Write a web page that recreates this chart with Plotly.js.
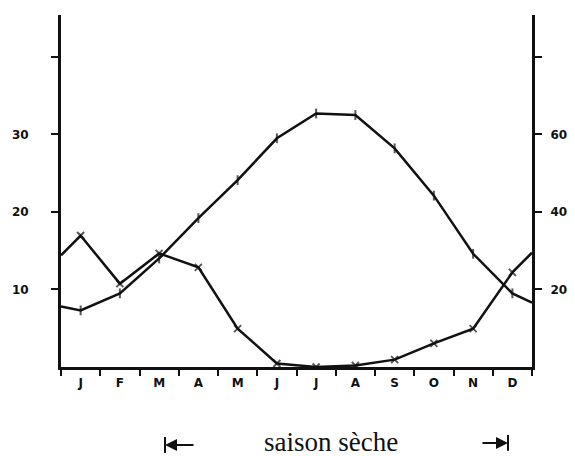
<!DOCTYPE html>
<html>
<head>
<meta charset="utf-8">
<script src="https://cdn.plot.ly/plotly-3.0.1.min.js"></script>
<style>html,body{margin:0;padding:0;background:#fff;}#chart{width:575px;height:456px;}</style>
</head>
<body>
<div id="chart"></div>
<script>
// Month labels (hand-drawn initials)
const months = ['J','F','M','A','M','J','J','A','S','O','N','D'];
// Temperature (°C, left axis)
const temperature = [7.3, 9.5, 14.0, 19.2, 24.1, 29.5, 32.7, 32.5, 28.2, 22.1, 14.6, 9.5];
// Precipitation (mm, right axis)
const precipitation = [33.9, 21.5, 29.3, 25.7, 9.9, 0.9, 0, 0.4, 1.9, 6.1, 9.9, 24.4];
// Values where the curves meet the left / right axes
const temperatureEdges = [7.8, 8.3];
const precipitationEdges = [28.8, 29.5];
// Axis tick labels
const leftTicks = [10, 20, 30, 40];
const leftTickText = ['10', '20', '30', ''];
const rightTicks = [20, 40, 60, 80];
const rightTickText = ['20', '40', '60', ''];

const monthIdx = months.map((m, i) => i);
const xs = [-0.5].concat(monthIdx, [11.5]);
const sizes = [0].concat(months.map(() => 7), [0]);

const tempY = [temperatureEdges[0]].concat(temperature, [temperatureEdges[1]]);
const precY = [precipitationEdges[0]].concat(precipitation, [precipitationEdges[1]]);

const yTop = 45.4;

const traces = [
  {
    x: xs, y: tempY, type: 'scatter', mode: 'lines+markers',
    line: {color: '#111', width: 2.5},
    marker: {symbol: 'line-ns', size: sizes, color: '#111', line: {color: '#111', width: 2}},
    yaxis: 'y', hoverinfo: 'skip'
  },
  {
    x: xs, y: precY, type: 'scatter', mode: 'lines+markers',
    line: {color: '#111', width: 2.5},
    marker: {symbol: 'x-thin', size: sizes, color: '#111', line: {color: '#111', width: 2}},
    yaxis: 'y2', hoverinfo: 'skip'
  }
];

const tickFont = {family: 'DejaVu Sans', size: 12, weight: 'bold', color: '#111'};

const layout = {
  width: 575, height: 456,
  margin: {l: 61, r: 43, t: 15, b: 89},
  paper_bgcolor: '#fff', plot_bgcolor: '#fff',
  showlegend: false,
  font: {family: 'DejaVu Sans', color: '#111'},
  xaxis: {
    range: [-0.5, 11.5], showgrid: false, zeroline: false,
    showline: true, linecolor: '#111', linewidth: 3,
    tickvals: monthIdx, ticktext: months, ticks: '',
    tickfont: tickFont,
    ticklabelstandoff: 3,
    minor: {tick0: 0.5, dtick: 1, ticks: 'outside', ticklen: 6, tickwidth: 2, tickcolor: '#111', showgrid: false}
  },
  yaxis: {
    range: [0, yTop], showgrid: false, zeroline: false,
    showline: true, linecolor: '#111', linewidth: 3,
    tickvals: leftTicks, ticktext: leftTickText,
    ticks: 'outside', ticklen: 7, tickwidth: 2, tickcolor: '#111',
    ticklabelstandoff: 20,
    tickfont: tickFont
  },
  yaxis2: {
    range: [0, 2 * yTop], overlaying: 'y', side: 'right',
    showgrid: false, zeroline: false,
    showline: true, linecolor: '#111', linewidth: 3,
    tickvals: rightTicks, ticktext: rightTickText,
    ticks: 'outside', ticklen: 7, tickwidth: 2, tickcolor: '#111',
    ticklabelstandoff: 6,
    tickfont: tickFont
  },
  shapes: [
    {type: 'line', xref: 'paper', yref: 'paper', x0: 0.2208, x1: 0.2208, y0: -0.199, y1: -0.244,
     line: {color: '#111', width: 2}},
    {type: 'line', xref: 'paper', yref: 'paper', x0: 0.949, x1: 0.949, y0: -0.193, y1: -0.238,
     line: {color: '#111', width: 2}}
  ],
  annotations: [
    {xref: 'paper', yref: 'paper', x: 0.573, y: -0.213, text: 'saison sèche', showarrow: false,
     font: {family: 'Liberation Serif', size: 27, color: '#111'}, xanchor: 'center', yanchor: 'middle'},
    {xref: 'paper', yref: 'paper', x: 0.2208, y: -0.2216, text: '', showarrow: true,
     ax: 30, ay: 0, arrowhead: 2, arrowsize: 1.2, arrowwidth: 2, arrowcolor: '#111', standoff: 0},
    {xref: 'paper', yref: 'paper', x: 0.949, y: -0.216, text: '', showarrow: true,
     ax: -27, ay: 0, arrowhead: 2, arrowsize: 1.2, arrowwidth: 2, arrowcolor: '#111', standoff: 0}
  ]
};

Plotly.newPlot('chart', traces, layout, {staticPlot: true, displayModeBar: false});
</script>
</body>
</html>
